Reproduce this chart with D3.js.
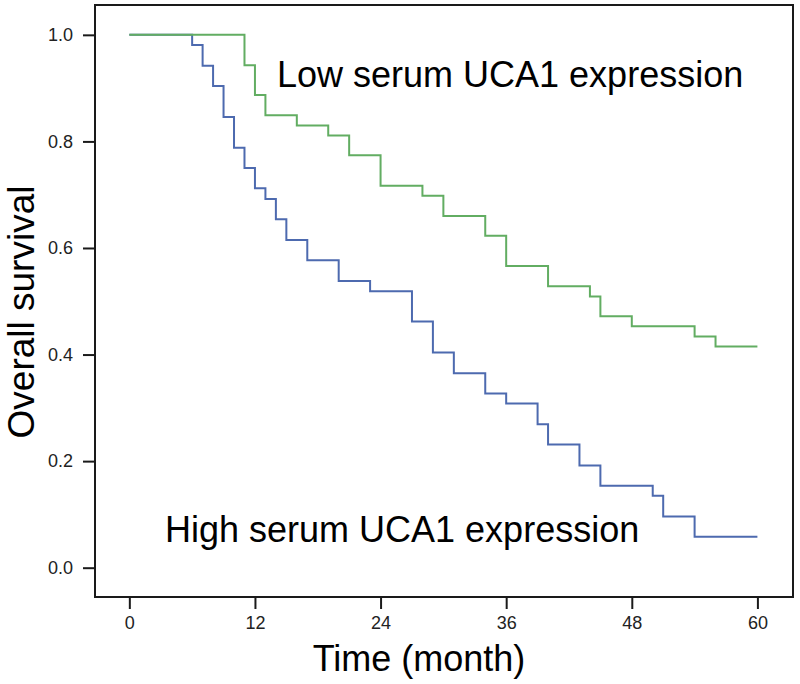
<!DOCTYPE html>
<html>
<head>
<meta charset="utf-8">
<script src="https://cdn.jsdelivr.net/npm/d3@7"></script>
<style>
  html, body { margin: 0; padding: 0; background: #fff; }
  svg { display: block; font-family: "Liberation Sans", Arial, Helvetica, sans-serif; }
</style>
</head>
<body>
<svg id="chart" width="800" height="684"></svg>
<script>
// ---- Data ----
const xTicks = [0, 12, 24, 36, 48, 60];
const yTicks = [0.0, 0.2, 0.4, 0.6, 0.8, 1.0];

// Low serum UCA1 expression (green): event times (months) and survival after each step
const lowTimes    = [11, 12, 13, 16, 19, 21, 24, 28, 30, 34, 36, 40, 44, 45, 48, 54, 56];
const lowSurvival = [0.943, 0.887, 0.849, 0.830, 0.811, 0.774, 0.717, 0.698, 0.660, 0.623, 0.566, 0.528, 0.509, 0.472, 0.453, 0.434, 0.415];

// High serum UCA1 expression (blue)
const highTimes    = [6, 7, 8, 9, 10, 11, 12, 13, 14, 15, 17, 20, 23, 27, 29, 31, 34, 36, 39, 40, 43, 45, 50, 51, 54];
const highSurvival = [0.981, 0.942, 0.904, 0.846, 0.788, 0.750, 0.712, 0.692, 0.654, 0.615, 0.577, 0.538, 0.519, 0.462, 0.404, 0.365, 0.327, 0.308, 0.269, 0.231, 0.192, 0.154, 0.135, 0.096, 0.058];

const followUpEnd = 60;
const labels = {
  low: "Low serum UCA1 expression",
  high: "High serum UCA1 expression",
  x: "Time (month)",
  y: "Overall survival"
};

// ---- Layout ----
const frame = { left: 95, top: 5, right: 793, bottom: 597 };
const svg = d3.select("#chart");

const x = d3.scaleLinear().domain([-3.28, 63.4]).range([frame.left, frame.right]);
const y = d3.scaleLinear().domain([-0.055, 1.056]).range([frame.bottom, frame.top]);

// frame
svg.append("rect")
  .attr("x", frame.left).attr("y", frame.top)
  .attr("width", frame.right - frame.left).attr("height", frame.bottom - frame.top)
  .attr("fill", "none").attr("stroke", "#1a1a1a").attr("stroke-width", 2);

// axes
const yAxis = svg.append("g")
  .attr("transform", `translate(${frame.left},0)`)
  .call(d3.axisLeft(y).tickValues(yTicks).tickFormat(d3.format(".1f")).tickSize(12).tickPadding(10));
const xAxis = svg.append("g")
  .attr("transform", `translate(0,${frame.bottom})`)
  .call(d3.axisBottom(x).tickValues(xTicks).tickFormat(d3.format("d")).tickSize(12).tickPadding(7));

[yAxis, xAxis].forEach(g => {
  g.select(".domain").remove();
  g.selectAll(".tick line").attr("stroke", "#1a1a1a").attr("stroke-width", 2);
  g.selectAll(".tick text").attr("fill", "#222").style("font-size", "18px")
    .style("font-family", '"Liberation Sans", Arial, sans-serif');
});

// survival curves
function stepPoints(times, surv) {
  const pts = [[0, 1]];
  times.forEach((t, i) => pts.push([t, surv[i]]));
  pts.push([followUpEnd, surv[surv.length - 1]]);
  return pts;
}
const line = d3.line().x(d => x(d[0])).y(d => y(d[1])).curve(d3.curveStepAfter);

svg.append("path")
  .attr("d", line(stepPoints(highTimes, highSurvival)))
  .attr("fill", "none").attr("stroke", "#4d6aaf").attr("stroke-width", 2);
svg.append("path")
  .attr("d", line(stepPoints(lowTimes, lowSurvival)))
  .attr("fill", "none").attr("stroke", "#62ad62").attr("stroke-width", 2);

// annotations
svg.append("text").attr("x", 277).attr("y", 87)
  .style("font-size", "36px").attr("fill", "#000").text(labels.low);
svg.append("text").attr("x", 165).attr("y", 542)
  .style("font-size", "36px").attr("fill", "#000").text(labels.high);

// axis titles
svg.append("text").attr("x", 419).attr("y", 671).attr("text-anchor", "middle")
  .style("font-size", "36px").attr("fill", "#000").text(labels.x);
svg.append("text").attr("transform", "translate(34,312) rotate(-90)").attr("text-anchor", "middle")
  .style("font-size", "37px").attr("fill", "#000").text(labels.y);
</script>
</body>
</html>
